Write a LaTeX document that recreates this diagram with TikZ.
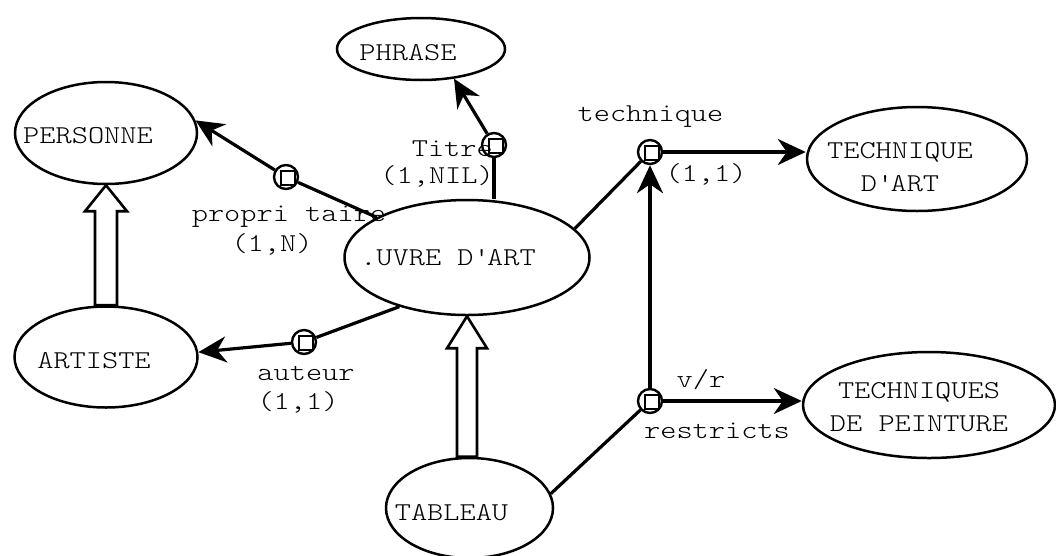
\documentclass[tikz,border=0pt]{standalone}
\usepackage{fontspec}
\setmonofont{lmmonolt10-regular.otf}[FakeStretch=1.2]
\usetikzlibrary{shapes.geometric,arrows.meta,calc}
\begin{document}
\begin{tikzpicture}[x=1pt,y=-1pt,
  font=\ttfamily\fontsize{25.7}{33}\selectfont,
  ent/.style={ellipse, draw, line width=2.5pt, inner sep=0pt},
  relc/.style={circle, draw, line width=2.4pt, minimum size=24pt, inner sep=0pt},
  relsq/.style={rectangle, draw, line width=2.4pt, minimum size=14pt, inner sep=0pt},
  conn/.style={line width=3.2pt},
  arr/.style={conn, -{Stealth[length=28pt,width=26pt,inset=9pt]}},
  hollow/.style={line width=2.6pt, line join=miter},
  lab/.style={anchor=base, inner sep=0pt}
]
\useasboundingbox (0,0) rectangle (1056,555);

% entities
\node[ent, minimum width=168pt, minimum height=62pt,
  label={[xshift=-13pt,yshift=-4pt]center:PHRASE}] (phr) at (421,49) {};
\node[ent, minimum width=182pt, minimum height=102pt,
  label={[xshift=-18pt,yshift=-3pt]center:PERSONNE}] (pers) at (106,133) {};
\node[ent, minimum width=183pt, minimum height=101pt,
  label={[xshift=-12pt,yshift=-4pt]center:ARTISTE}] (art) at (106,357) {};
\node[ent, minimum width=245pt, minimum height=115pt,
  label={[xshift=-19pt]center:.UVRE D\textquotesingle ART}] (oeuvre) at (467,257.5) {};
\node[ent, minimum width=167pt, minimum height=100pt,
  label={[xshift=-18pt,yshift=-5pt]center:TABLEAU}] (tab) at (469.5,508) {};
\node[ent, minimum width=220pt, minimum height=104pt,
  label={[align=center,xshift=-17pt,yshift=-8pt]center:TECHNIQUE\\D\textquotesingle ART}] (tda) at (917,159) {};
\node[ent, minimum width=252pt, minimum height=106pt,
  label={[align=center,xshift=-10pt,yshift=-2pt]center:TECHNIQUES\\DE PEINTURE}] (tdp) at (929,405) {};

% relation markers
\node[relc] (mP) at (286,177) {};
\node[relsq] (mPs) at ($(mP)+(2,1)$) {};
\node[relc] (mTi) at (494,145) {};
\node[relsq] (mTis) at ($(mTi)+(2,1)$) {};
\node[relc] (mT) at (650,152) {};
\node[relsq] (mTs) at ($(mT)+(2,1)$) {};
\node[relc] (mA) at (304,342) {};
\node[relsq] (mAs) at ($(mA)+(2,1)$) {};
\node[relc] (mV) at (650,401) {};
\node[relsq] (mVs) at ($(mV)+(2,1)$) {};

% connectors
\draw[conn] (oeuvre) -- (mP);
\draw[arr] (mP) -- (pers.8);
\draw[conn] (mTi) -- (mTi |- oeuvre.north);
\draw[arr] (mTi) -- (phr.318);
\draw[conn] (oeuvre.216) -- (mA);
\draw[arr] (mA) -- (art.3);
\draw[conn] (oeuvre.15) -- (mT);
\draw[arr] (mT) -- (mT -| tda.west);
\draw[conn] (tab.10) -- (mV);
\draw[arr] (mV) -- (mV -| tdp.west);
\draw[arr] (mV) -- (mT);

% specialisation (hollow) arrows
\draw[hollow] (pers.south) -- ++(21,26) -- ++(-10,0)
  -- ($(pers.south |- art.north)+(11,0)$) -- ($(pers.south |- art.north)+(-11,0)$)
  -- ($(pers.south)+(-11,26)$) -- ++(-10,0) -- cycle;
\draw[hollow] (oeuvre.south) -- ++(20,32) -- ++(-10,0)
  -- ($(oeuvre.south |- tab.north)+(10,0)$) -- ($(oeuvre.south |- tab.north)+(-10,0)$)
  -- ($(oeuvre.south)+(-10,32)$) -- ++(-10,0) -- cycle;

% labels
\node[lab] (lprop) at (289,221) {propri taire};
\node[lab] (lpropc) at (272,251) {(1,N)};
\node[lab, anchor=base east] (ltitre) at (493,156) {Titre};
\node[lab, anchor=base east] (ltitrec) at (494,183) {(1,NIL)};
\node[lab] (ltech) at (650.5,121) {technique};
\node[lab] (ltechc) at (706,181) {(1,1)};
\node[lab] (laut) at (306,380) {auteur};
\node[lab] (lautc) at (298,409) {(1,1)};
\node[lab] (lvr) at (701,387) {v/r};
\node[lab] (lrestr) at (717,438) {restricts};
\end{tikzpicture}
\end{document}
